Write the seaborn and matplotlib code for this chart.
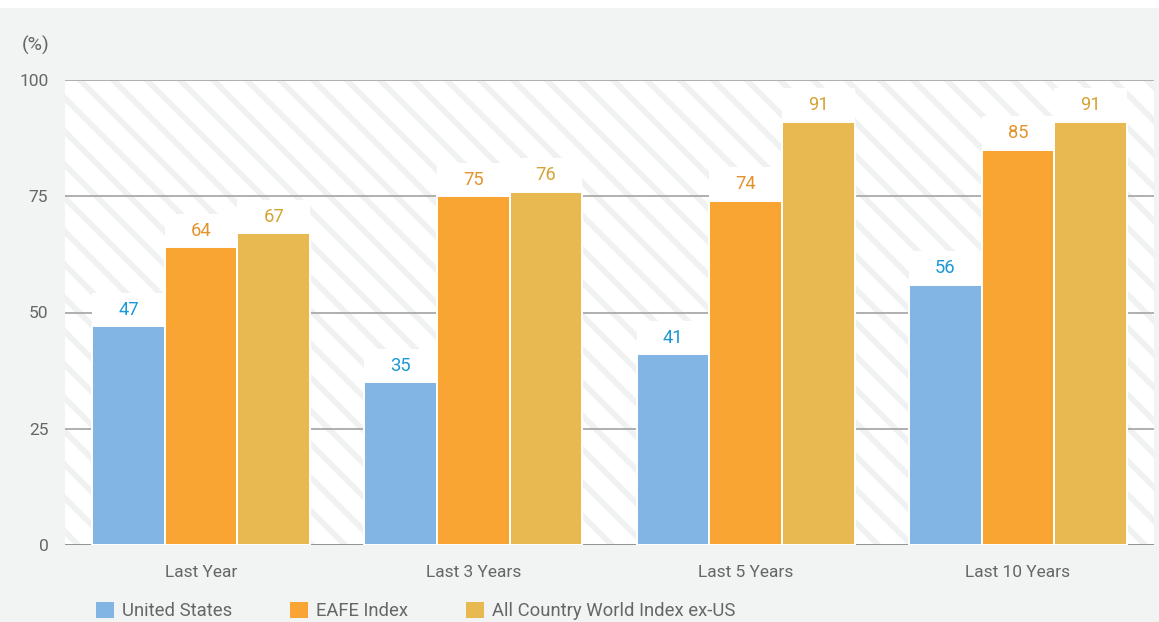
import matplotlib
matplotlib.use("Agg")
import matplotlib.pyplot as plt
from matplotlib.patches import Rectangle, Patch
import seaborn as sns
import pandas as pd

periods = ["Last Year", "Last 3 Years", "Last 5 Years", "Last 10 Years"]
series = ["United States", "EAFE Index", "All Country World Index ex-US"]
us_values = [47, 35, 41, 56]
eafe_values = [64, 75, 74, 85]
acwi_values = [67, 76, 91, 91]
yticks = [0, 25, 50, 75, 100]

bar_colors = ["#82b5e3", "#f8a534", "#e8b951"]
label_colors = ["#1b98d5", "#e3932c", "#d3a336"]
BOX_PAD = 7.2

rows = []
for s, vals in zip(series, [us_values, eafe_values, acwi_values]):
    for p, v in zip(periods, vals):
        rows.append({"period": p, "series": s, "value": v, "box": v + BOX_PAD})
df = pd.DataFrame(rows)

sns.set_theme(style="white")
plt.rcParams["font.family"] = ["Roboto", "DejaVu Sans"]
plt.rcParams["hatch.linewidth"] = 4.2

fig = plt.figure(figsize=(11.59, 6.22), dpi=100, facecolor="#f2f3f3")
fig.add_artist(Rectangle((0, 1 - 8 / 622), 1, 8 / 622, transform=fig.transFigure,
                         facecolor="white", edgecolor="none", zorder=0))
ax = fig.add_axes([65 / 1159, 1 - 545 / 622, (1154 - 65) / 1159, (545 - 80) / 622])
ax.set_facecolor("white")
ax.add_patch(Rectangle((0, 0), 1, 1, transform=ax.transAxes, facecolor="white",
                       edgecolor="#f0f2f2", hatch="\\", linewidth=0, zorder=0.1))

for t in yticks:
    ax.axhline(t, color="#8a8a8a" if t == 0 else "#a9a9a9", linewidth=1.3, zorder=0.5)

# white label boxes behind bars
sns.barplot(data=df, x="period", y="box", hue="series", order=periods, hue_order=series,
            palette=["white"] * 3, width=0.8, gap=0, legend=False, ax=ax,
            errorbar=None, saturation=1, zorder=2, linewidth=0)
n_white = len(ax.containers)
sns.barplot(data=df, x="period", y="value", hue="series", order=periods, hue_order=series,
            palette=bar_colors, width=0.8, gap=0, legend=False, ax=ax,
            errorbar=None, saturation=1, zorder=3, edgecolor="white", linewidth=1.4)

for cont, lc in zip(ax.containers[n_white:], label_colors):
    for p in cont.patches:
        ax.text(p.get_x() + p.get_width() / 2, p.get_height() + 3.6, f"{p.get_height():.0f}",
                ha="center", va="center", fontsize=13.2, color=lc, zorder=5)

ax.set_xlim(-0.5, 3.5)
ax.set_ylim(0, 100)
ax.set_yticks(yticks)
ax.set_yticklabels([str(t) for t in yticks])
ax.set_xlabel("")
ax.set_ylabel("")
for s in ax.spines.values():
    s.set_visible(False)
ax.tick_params(axis="y", length=0, pad=12, labelsize=12.5, labelcolor="#666666")
ax.tick_params(axis="x", length=0, pad=14.5, labelsize=12.5, labelcolor="#666666")

fig.text(22 / 1159, 1 - 45 / 622, "(%)", ha="left", va="center", fontsize=14, color="#666666")

handles = [Patch(facecolor=c, edgecolor="none") for c in bar_colors]
fig.legend(handles, series, loc="center left", bbox_to_anchor=(96 / 1159, 1 - 611 / 622),
           ncol=3, frameon=False, fontsize=13.3, labelcolor="#666666",
           handlelength=0.95, handleheight=0.95, handletextpad=0.45, columnspacing=3.15,
           borderaxespad=0, borderpad=0)

fig.savefig("out.png", dpi=100, facecolor=fig.get_facecolor())
